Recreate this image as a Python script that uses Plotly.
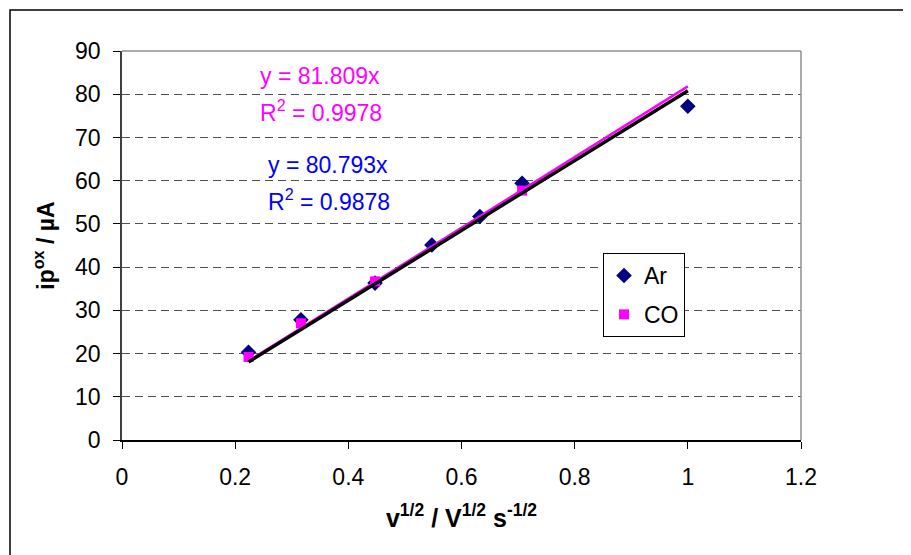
import plotly.graph_objects as go

# ---- data ----
x_ar = [0.2236, 0.3162, 0.4472, 0.5477, 0.6325, 0.7071, 1.0]
y_ar = [20.3, 27.8, 36.3, 45.1, 51.7, 59.4, 77.2]
x_co = [0.2236, 0.3162, 0.4472, 0.7071]
y_co = [19.2, 27.0, 36.7, 57.7]
slope_ar = 80.793
slope_co = 81.809
r2_ar = 0.9878
r2_co = 0.9978
trend_x = [0.2236, 1.0]
x_ticks = [0, 0.2, 0.4, 0.6, 0.8, 1, 1.2]
x_ticklabels = ["0", "0.2", "0.4", "0.6", "0.8", "1", "1.2"]
y_ticks = [0, 10, 20, 30, 40, 50, 60, 70, 80, 90]

FONT = "Liberation Sans, Arial, sans-serif"
NAVY = "#000080"
MAG = "#FF00FF"
BLUE = "#0000FF"
FS = 23

fig = go.Figure()
fig.add_trace(go.Scatter(x=x_ar, y=y_ar, mode="markers", name="Ar", legendgroup="ar",
                         marker=dict(symbol="diamond", size=12, color=NAVY)))
fig.add_trace(go.Scatter(x=x_co, y=y_co, mode="markers", name="CO", legendgroup="co",
                         marker=dict(symbol="square", size=10, color=MAG)))
fig.add_trace(go.Scatter(x=trend_x, y=[slope_co * v for v in trend_x], mode="lines",
                         line=dict(color=MAG, width=2.5), showlegend=False, hoverinfo="skip"))
fig.add_trace(go.Scatter(x=trend_x, y=[slope_ar * v for v in trend_x], mode="lines",
                         line=dict(color="black", width=3.5), showlegend=False, hoverinfo="skip"))

OFF = 8  # page body margin
W, H = 903, 547
L, T = 122 - OFF, 51 - OFF
pw, ph = 679, 389
R, B = W - L - pw, H - T - ph

def px(xp):  # page pixel -> paper x
    return (xp - OFF - L) / pw

def py(yp):  # page pixel -> paper y
    return (T + ph - (yp - OFF)) / ph

fig.update_layout(
    width=W, height=H,
    margin=dict(l=L, r=R, t=T, b=B, pad=0),
    paper_bgcolor="white", plot_bgcolor="white",
    font=dict(family=FONT, size=FS, color="black"),
    showlegend=True,
    legend=dict(x=px(603), y=py(253), xanchor="left", yanchor="top",
                bordercolor="black", borderwidth=1, bgcolor="white",
                font=dict(size=FS), itemwidth=30, tracegroupgap=6),
    xaxis=dict(range=[0, 1.2], tickvals=x_ticks, ticktext=x_ticklabels,
               showgrid=False, zeroline=False, showline=True, linecolor="black", linewidth=1.5,
               ticks="outside", ticklen=7, tickcolor="black", ticklabelstandoff=9,
               title=dict(text="<b>v<sup>1/2</sup> / V<sup>1/2</sup> s<sup>-1/2</sup></b>",
                          font=dict(size=25), standoff=20)),
    yaxis=dict(range=[0, 90], tickvals=y_ticks,
               showgrid=True, gridcolor="#505050", gridwidth=1, griddash="8px,5px",
               zeroline=False, showline=True, linecolor="#404040", linewidth=1.5,
               ticks="outside", ticklen=7, tickcolor="black", ticklabelstandoff=8,
               title=dict(text="<b>ip<sup>ox</sup> / µA</b>", font=dict(size=FS), standoff=14)),
)

# plot area top/right border
fig.add_shape(type="line", xref="paper", yref="paper", x0=0, x1=1, y0=1, y1=1,
              line=dict(color="#909090", width=1.5))
fig.add_shape(type="line", xref="paper", yref="paper", x0=1, x1=1, y0=0, y1=1,
              line=dict(color="#909090", width=1.5))
# outer chart border (cropped at right/bottom)
fig.add_shape(type="rect", xref="paper", yref="paper", x0=px(10), y0=py(620), x1=px(960), y1=py(10),
              line=dict(color="black", width=1.5), layer="below")

def yv(yp):  # page pixel -> y data
    return 90 * py(yp)

def xv(xp):
    return 1.2 * px(xp)

def add_text(xp, yp, text, color):
    fig.add_annotation(x=xv(xp), y=yv(yp), xref="x", yref="y", text=text, showarrow=False,
                       xanchor="left", yanchor="middle",
                       font=dict(size=FS, family=FONT, color=color))

add_text(258, 76, f"y = {slope_co:.3f}x", MAG)
add_text(258, 111, f"R<sup>2</sup> = {r2_co:.4f}", MAG)
add_text(266, 165, f"y = {slope_ar:.3f}x", BLUE)
add_text(266, 200, f"R<sup>2</sup> = {r2_ar:.4f}", BLUE)

fig.write_html("out.html")
